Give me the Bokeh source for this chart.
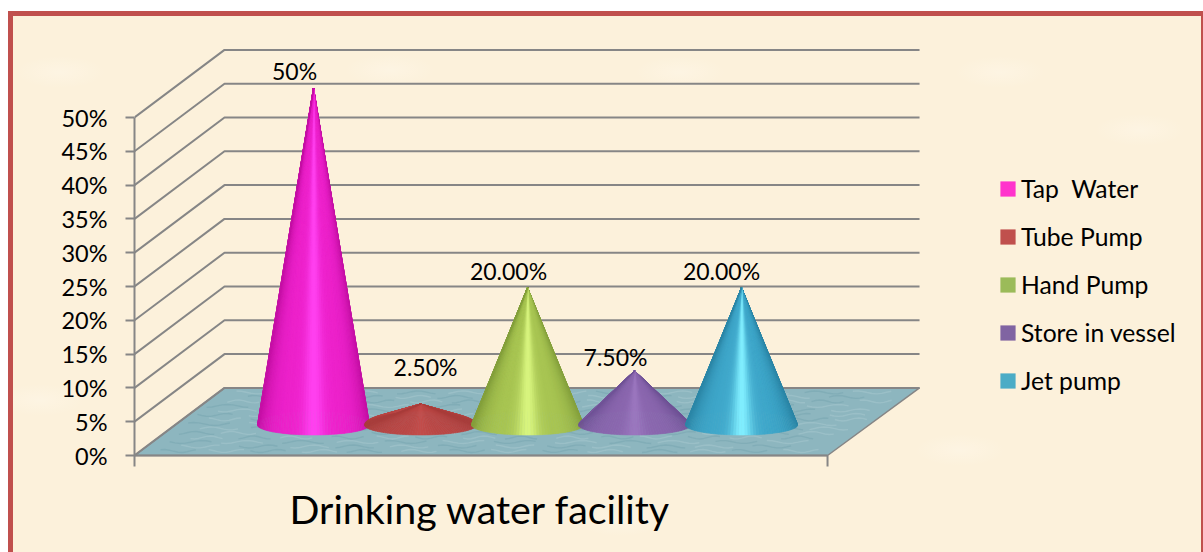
import math
from bokeh.core.properties import value
from bokeh.embed import file_html
from bokeh.models import (FixedTicker, Label, Legend, LegendItem, LinearAxis,
                          Range1d, PrintfTickFormatter)
from bokeh.plotting import figure
from bokeh.resources import INLINE

categories = ["Tap  Water", "Tube Pump", "Hand Pump", "Store in vessel", "Jet pump"]
values = [50, 2.5, 20, 7.5, 20]
point_labels = ["50%", "2.50%", "20.00%", "7.50%", "20.00%"]
y_ticks = [0, 5, 10, 15, 20, 25, 30, 35, 40, 45, 50]

colors = ["#FF33CC", "#C0504D", "#9BBB59", "#8064A2", "#4BACC6"]
dark = ["#C410A4", "#A83C3A", "#84A03C", "#6F5296", "#2B86A6"]
mid = ["#EE22CC", "#BA4644", "#A9C653", "#8A66AE", "#3FA8CB"]
light = ["#FF40F0", "#C24C4A", "#D8F57E", "#9A76BE", "#80EEFF"]

FONT = "Lato"
W, H = 1187, 536
PX_X, PX_Y = 107.0, 6.76          # pixels per category / per percent
LEFT, RIGHT_AXIS = -1.673, 4.804  # front edge of the floor, category units
DEPTH_X, DEPTH_Y = 90 / PX_X, 10.0
BACK_RIGHT = RIGHT_AXIS + 92 / PX_X
BASE_Y = 30.5 / PX_Y
APEX_OFFSET = 4.4 / PX_Y
CONE_SCALE = 6.65 / PX_Y
BASE_A, BASE_B, BACK_B = 56 / PX_X, 10 / PX_Y, 14 / PX_Y
X_END = LEFT + (W - 134) / PX_X
Y_END = 455 / PX_Y
Y_START = -81 / PX_Y
TICK_DOWN = -11 / PX_Y

BG = "#FCF1DB"
RED = "#C0504D"
LIGHT_SPOT = "rgba(255,248,236,0.45)"
spots = [(60, 72), (390, 70), (680, 72), (1000, 72), (40, 400), (1140, 130), (620, 520), (960, 450)]
spot_css = "".join(f"radial-gradient(ellipse 45px 16px at {x}px {y}px,{LIGHT_SPOT},transparent)," for x, y in spots)
p = figure(width=W, height=H, output_backend="svg", toolbar_location=None,
           x_range=Range1d(LEFT, X_END), y_range=Range1d(Y_START, Y_END),
           x_axis_type=None, y_axis_type=None,
           min_border_left=134, min_border_right=0, min_border_top=0, min_border_bottom=0,
           background_fill_alpha=0, border_fill_alpha=0, outline_line_color=None)
p.grid.visible = False
p.styles = {
    "background": (f"linear-gradient(#fff,#fff) 0 0/8px 100% no-repeat,"
                   f"linear-gradient(#fff,#fff) 0 0/100% 11px no-repeat,"
                   f"linear-gradient({RED},{RED}) 8px 11px/100% 5px no-repeat,"
                   f"linear-gradient({RED},{RED}) 8px 11px/5px 100% no-repeat,"
                   f"{spot_css}{BG}"),
    "box-shadow": (f"14px 16px 0 0 {BG},13px 16px 0 0 {BG},8px 16px 0 0 {RED},"
                   f"16px 16px 0 0 {RED},16px 11px 0 0 {RED}"),
}

GRAY = "#868686"
# floor
p.patch([LEFT, RIGHT_AXIS, BACK_RIGHT, LEFT + DEPTH_X], [0, 0, DEPTH_Y, DEPTH_Y],
        fill_color="#8DB6BF", line_color=GRAY, line_width=1.5)

# water ripples on the floor (decorative)
wx, wy, wc = [], [], []
for r in range(1, 15):
    yy = DEPTH_Y * r / 15
    x0 = LEFT + DEPTH_X * yy / DEPTH_Y
    x1 = RIGHT_AXIS + DEPTH_X * yy / DEPTH_Y
    span = 0.30 + 0.03 * (r % 4)
    x = x0 + 0.05 + (r * 0.137) % 0.3
    k = 0
    while x + span < x1:
        n = 9
        xs = [x + span * j / (n - 1) for j in range(n)]
        ys = [yy + 0.22 * math.sin(6.28 * j / (n - 1) + r + k) for j in range(n)]
        wx.append(xs)
        wy.append(ys)
        wc.append("#6D9DA9" if (r + k) % 2 else "#B4D0D6")
        x += span + 0.06 + ((r * 7 + k * 3) % 5) * 0.03
        k += 1
p.multi_line(wx, wy, line_color=wc, line_width=1.4, line_alpha=0.35)

# walls, front edge of the floor and its end tick
p.multi_line([[LEFT, LEFT + DEPTH_X, BACK_RIGHT] for _ in y_ticks],
             [[t, t + DEPTH_Y, t + DEPTH_Y] for t in y_ticks], line_color=GRAY, line_width=2)
p.line([LEFT, RIGHT_AXIS], [0, 0], line_color=GRAY, line_width=2)
p.line([RIGHT_AXIS, RIGHT_AXIS], [0, TICK_DOWN], line_color=GRAY, line_width=2)


def hex_rgb(h):
    return [int(h[i:i + 2], 16) for i in (1, 3, 5)]


def mix(a, b, s):
    ca, cb = hex_rgb(a), hex_rgb(b)
    return "#%02x%02x%02x" % tuple(round(x + (y - x) * s) for x, y in zip(ca, cb))


def rim_y(t):
    s = math.sin(t)
    return BASE_Y - (BASE_B if s >= 0 else BACK_B) * s


N = 60
apex = [BASE_Y + APEX_OFFSET + v * CONE_SCALE for v in values]
for i, v in enumerate(values):
    xs, ys, cs = [], [], []
    order = [math.pi + math.pi * k / N for k in range(N)] + [math.pi * k / N for k in range(N)]
    for t in order:
        t2 = t + math.pi / N
        xs.append([i, i + BASE_A * math.cos(t), i + BASE_A * math.cos(t2)])
        ys.append([apex[i], rim_y(t), rim_y(t2)])
        u = math.cos((t + t2) / 2)
        c = mix(mid[i], dark[i], abs(u) ** 5)
        c = mix(c, light[i], math.exp(-(u / 0.2) ** 2))
        cs.append(c)
    p.patches(xs, ys, fill_color=cs, line_color=cs, line_width=0.6)

# value labels
label_dx = [-19 / PX_X, 5 / PX_X, -19 / PX_X, -19 / PX_X, -20 / PX_X]
label_dy = [2.5, 5.4, 2.4, 2.0, 2.4]
p.text([i + d for i, d in enumerate(label_dx)], [a + d for a, d in zip(apex, label_dy)],
       text=point_labels, text_font=value(FONT), text_font_size="23px", text_color="#000000",
       text_align="center", text_baseline="middle")

# value axis
yax = LinearAxis(ticker=FixedTicker(ticks=y_ticks), bounds=(TICK_DOWN, 50),
                 formatter=PrintfTickFormatter(format="%d%%"))
yax.axis_line_color = GRAY
yax.axis_line_width = 2
yax.major_tick_line_color = GRAY
yax.major_tick_line_width = 2
yax.major_tick_in = 0
yax.major_tick_out = 9
yax.minor_tick_line_color = None
yax.major_label_standoff = 18
yax.major_label_text_font = FONT
yax.major_label_text_font_size = "23.5px"
yax.major_label_text_color = "#000000"
p.add_layout(yax, "left")

p.add_layout(Label(x=LEFT + 155 / PX_X, y=-53 / PX_Y, text="Drinking water facility", text_font=FONT,
                   text_font_size="39.4px", text_color="#000000", text_align="left",
                   text_baseline="middle"))

# legend
items = []
for i, (c, name) in enumerate(zip(colors, categories)):
    r = p.quad(left=[i], right=[i], top=[values[i]], bottom=[values[i]], fill_color=c, line_color=None)
    items.append(LegendItem(label=name, renderers=[r]))
legend = Legend(items=items, location=(864, 141), orientation="vertical",
                background_fill_alpha=0, border_line_color=None, padding=0, margin=0,
                glyph_width=19, glyph_height=19, label_height=15, spacing=19, label_standoff=4,
                label_text_font=FONT, label_text_font_size="24.7px", label_text_color="#000000")
p.add_layout(legend, "center")

open("out.html", "w").write(file_html(p, INLINE))
